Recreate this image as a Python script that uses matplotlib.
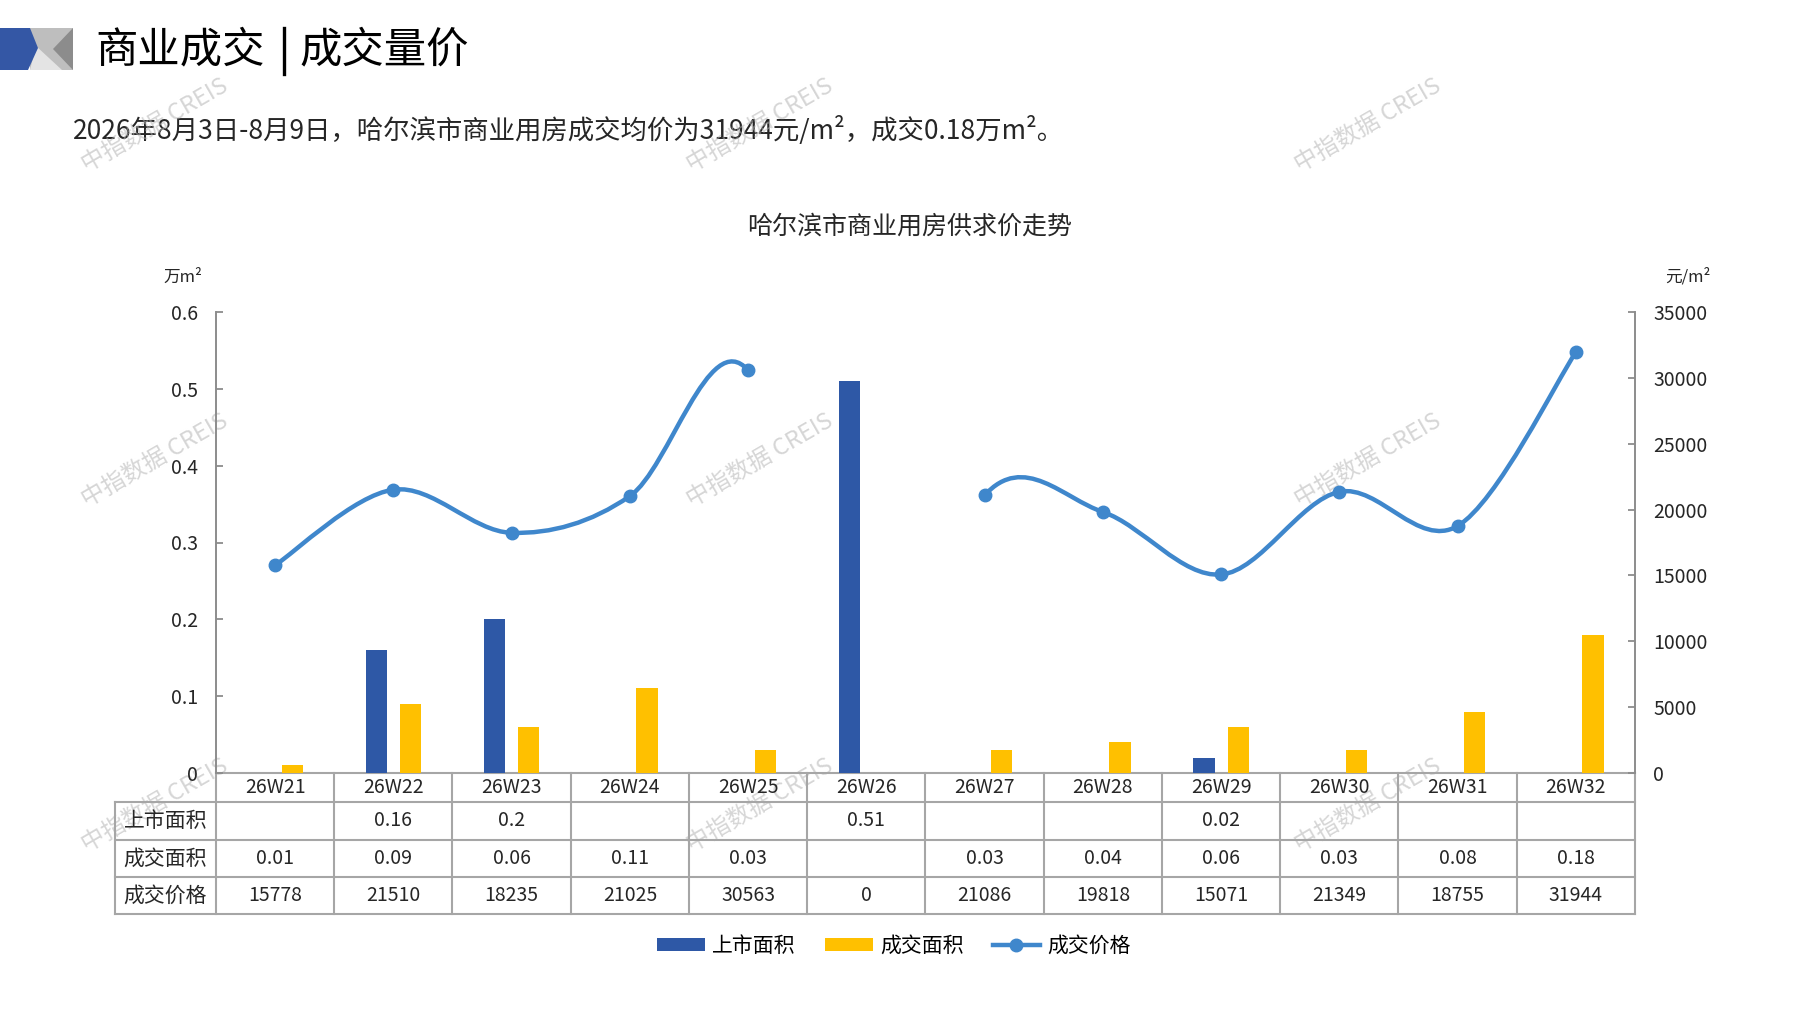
import numpy as np
import matplotlib
matplotlib.use("Agg")
import matplotlib.pyplot as plt
from matplotlib.path import Path
from matplotlib.patches import PathPatch, Patch, Polygon
from matplotlib.lines import Line2D
from matplotlib.ticker import FixedLocator, FuncFormatter

plt.rcParams["font.family"] = ["Noto Sans CJK SC", "DejaVu Sans"]

# data
weeks = ["26W21", "26W22", "26W23", "26W24", "26W25", "26W26",
         "26W27", "26W28", "26W29", "26W30", "26W31", "26W32"]
supply_area = [np.nan, 0.16, 0.2, np.nan, np.nan, 0.51,
               np.nan, np.nan, 0.02, np.nan, np.nan, np.nan]
deal_area = [0.01, 0.09, 0.06, 0.11, 0.03, np.nan,
             0.03, 0.04, 0.06, 0.03, 0.08, 0.18]
deal_price = [15778, 21510, 18235, 21025, 30563, 0,
              21086, 19818, 15071, 21349, 18755, 31944]
row_names = ["上市面积", "成交面积", "成交价格"]
series_names = ["上市面积", "成交面积", "成交价格"]

title_parts = ["商业成交", "成交量价"]
subtitle = "2026年8月3日-8月9日，哈尔滨市商业用房成交均价为31944元/m²，成交0.18万m²。"
chart_title = "哈尔滨市商业用房供求价走势"

BLUE = "#2E58A6"
YELLOW = "#FFC000"
LINE = "#3F87CC"
GRID = "#A6A6A6"
TXT = "#262626"

W, H = 1797, 1010
fig = plt.figure(figsize=(W / 100, H / 100), dpi=100)

# overlay in pixel coordinates for header, texts and watermarks
ov = fig.add_axes([0, 0, 1, 1], zorder=-1)
ov.set_xlim(0, W)
ov.set_ylim(H, 0)
ov.axis("off")

ov.add_patch(Polygon([(30, 28), (73, 28), (73, 70), (30, 70)], closed=True, color="#BEBEBE", lw=0))
ov.add_patch(Polygon([(36, 46), (62, 70), (30, 70)], closed=True, color="#E4E4E4", lw=0))
ov.add_patch(Polygon([(73, 28), (73, 70), (53, 49)], closed=True, color="#8C8C8C", lw=0))
ov.add_patch(Polygon([(0, 28), (30, 28), (38, 48), (28, 70), (0, 70)], closed=True, color="#3457A5", lw=0))

ov.text(95, 50, title_parts[0], fontsize=30.5, va="center", ha="left", color="black")
ov.add_line(Line2D([284, 284], [28, 74], color="black", lw=2.4))
ov.text(299, 50, title_parts[1], fontsize=30.5, va="center", ha="left", color="black")
ov.text(73, 131, subtitle, fontsize=19, va="center", ha="left", color=TXT)
ov.text(910, 227, chart_title, fontsize=18, va="center", ha="center", color=TXT)
ov.text(183, 277, "万m²", fontsize=12, va="center", ha="center", color=TXT)
ov.text(1688, 277, "元/m²", fontsize=12, va="center", ha="center", color=TXT)

# plot area
left, right, top, bottom = 216, 1635, 312, 773
ax = fig.add_axes([left / W, 1 - bottom / H, (right - left) / W, (bottom - top) / H])
ax2 = ax.twinx()

x = np.arange(len(weeks))
bw = 0.18
ax.bar(x - 0.145, supply_area, width=bw, color=BLUE, zorder=2)
ax.bar(x + 0.145, deal_area, width=bw, color=YELLOW, zorder=2)

ax.set_xlim(-0.5, len(weeks) - 0.5)
ax.set_ylim(0, 0.6)
ax2.set_ylim(0, 35000)
ax.yaxis.set_major_locator(FixedLocator(np.arange(0, 0.61, 0.1)))
ax2.yaxis.set_major_locator(FixedLocator(np.arange(0, 35001, 5000)))
ax.yaxis.set_major_formatter(FuncFormatter(lambda v, p: "0" if abs(v) < 1e-9 else f"{v:.1f}"))
ax2.yaxis.set_major_formatter(FuncFormatter(lambda v, p: f"{int(round(v))}"))
ax.set_xticks([])
for a in (ax, ax2):
    for s in a.spines.values():
        s.set_visible(False)
    a.tick_params(axis="y", direction="in", length=5, width=1.3, colors="#8C8C8C",
                  labelsize=14, labelcolor=TXT, pad=13)
    a.patch.set_visible(False)
ax.spines["left"].set_visible(True)
ax.spines["left"].set_color("#8C8C8C")
ax.spines["left"].set_linewidth(1.4)
ax2.spines["right"].set_visible(True)
ax2.spines["right"].set_color("#8C8C8C")
ax2.spines["right"].set_linewidth(1.4)

# smoothed price line (Excel style bezier), gap where price is 0
pts = [(float(i), float(v)) for i, v in enumerate(deal_price)]
valid = [v > 0 for v in deal_price]
n = len(pts)
verts, codes = [], []
pen_down = False
for i in range(n - 1):
    if not (valid[i] and valid[i + 1]):
        pen_down = False
        continue
    p0 = pts[i - 1] if i > 0 else pts[i]
    p1, p2 = pts[i], pts[i + 1]
    p3 = pts[i + 2] if i + 2 < n else pts[i + 1]
    c1 = (p1[0] + (p2[0] - p0[0]) / 6, p1[1] + (p2[1] - p0[1]) / 6)
    c2 = (p2[0] - (p3[0] - p1[0]) / 6, p2[1] - (p3[1] - p1[1]) / 6)
    if not pen_down:
        verts.append(p1)
        codes.append(Path.MOVETO)
        pen_down = True
    verts += [c1, c2, p2]
    codes += [Path.CURVE4] * 3
ax2.add_patch(PathPatch(Path(verts, codes), fill=False, edgecolor=LINE, lw=3.2,
                        capstyle="round", joinstyle="round", zorder=3))
px = [i for i in range(n) if valid[i]]
py = [deal_price[i] for i in px]
ax2.plot(px, py, ls="none", marker="o", ms=9, color=LINE, zorder=4)

# data table under the plot
ah = bottom - top
rows_px = [773, 802, 840, 877, 914]
ry = [-(r - bottom) / ah for r in rows_px]
tx_left = -0.5 - (left - 115) / ((right - left) / len(weeks))
tr = ax.get_xaxis_transform()
kw = dict(color=GRID, lw=1.5, transform=tr, clip_on=False, zorder=1)
ax.add_line(Line2D([-0.5, len(weeks) - 0.5], [0, 0], **kw))
for yy in ry[1:]:
    ax.add_line(Line2D([tx_left, len(weeks) - 0.5], [yy, yy], **kw))
for k in range(len(weeks) + 1):
    ax.add_line(Line2D([k - 0.5, k - 0.5], [0, ry[-1]], **kw))
ax.add_line(Line2D([tx_left, tx_left], [ry[1], ry[-1]], **kw))

def fmt_area(v):
    return "" if np.isnan(v) else f"{v:g}"

table_rows = [
    [fmt_area(v) for v in supply_area],
    [fmt_area(v) for v in deal_area],
    [str(v) for v in deal_price],
]
cy = (ry[0] + ry[1]) / 2
for i, w in enumerate(weeks):
    ax.text(i, cy, w, transform=tr, ha="center", va="center", fontsize=14, color=TXT, clip_on=False)
for r, (name, vals) in enumerate(zip(row_names, table_rows)):
    yc = (ry[r + 1] + ry[r + 2]) / 2
    ax.text((tx_left - 0.5) / 2, yc, name, transform=tr, ha="center", va="center",
            fontsize=15, color=TXT, clip_on=False)
    for i, v in enumerate(vals):
        ax.text(i, yc, v, transform=tr, ha="center", va="center", fontsize=14, color=TXT, clip_on=False)

# legend
handles = [
    Patch(facecolor=BLUE, edgecolor="none"),
    Patch(facecolor=YELLOW, edgecolor="none"),
    Line2D([], [], color=LINE, lw=3.2, marker="o", ms=9),
]
fig.legend(handles, series_names, loc="center", bbox_to_anchor=(894 / W, 1 - 946 / H),
           ncol=3, frameon=False, fontsize=15, handlelength=2.3, handleheight=0.6,
           handletextpad=0.35, columnspacing=1.4)

# watermarks
for wy in (125, 460, 805):
    for wx in (155, 760, 1368):
        ov.text(wx, wy, "中指数据 CREIS", fontsize=17, color="#B4B4B4", alpha=0.55,
                rotation=30, ha="center", va="center", family=["Noto Sans CJK SC", "DejaVu Sans"])

fig.savefig("out.png", dpi=100, facecolor="white")
